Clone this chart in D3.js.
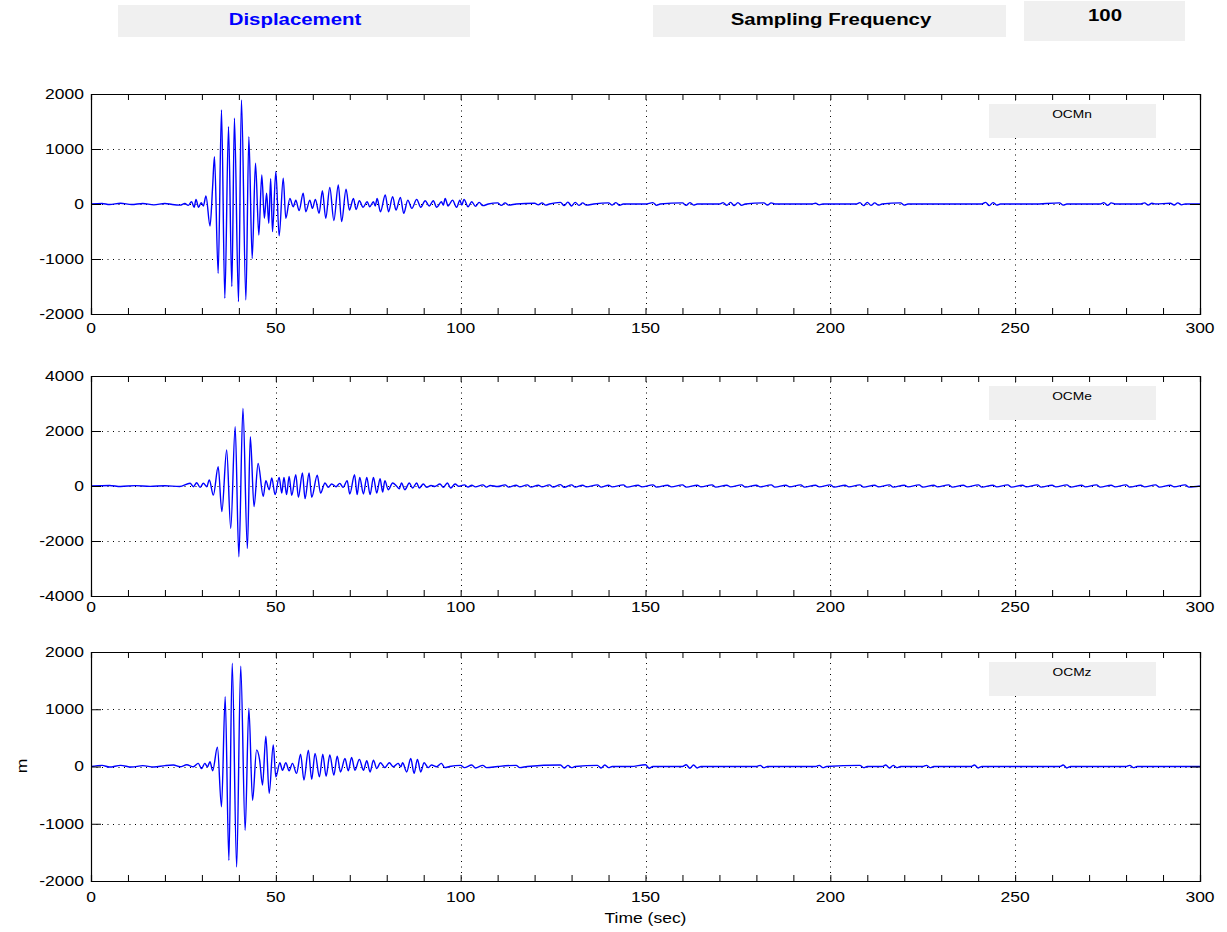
<!DOCTYPE html>
<html>
<head>
<meta charset="utf-8">
<script src="https://cdn.jsdelivr.net/npm/d3@7"></script>
<style>
  body { margin: 0; background: #fff; }
  svg text { font-family: "Liberation Sans", Arial, Helvetica, sans-serif; fill: #000; }
</style>
</head>
<body>
<svg id="chart" width="1227" height="932"></svg>
<script>
// ---- data ----
const channels = ["OCMn", "OCMe", "OCMz"];
const quantity = "Displacement";
const samplingLabel = "Sampling Frequency";
const samplingRate = "100";
const yLabel = "m";
const xLabel = "Time (sec)";
const xTickValues = [0, 50, 100, 150, 200, 250, 300];
const xMinorStep = 10;
const yDomains = [[-2000, 2000], [-4000, 4000], [-2000, 2000]];
const yTickValues = [
  [-2000, -1000, 0, 1000, 2000],
  [-4000, -2000, 0, 2000, 4000],
  [-2000, -1000, 0, 1000, 2000]
];

// waveform turning points, [time s, displacement]
const traceN = [
  [0,0],[3,10],[5,-10],[8,15],[11,-10],[14,10],[17,-15],[20,10],[22,-10],
  [24.1,-20],[25.4,10],[26.3,-25],[27.2,43],[27.9,-60],[28.4,85],[29.1,-60],[29.8,25],[30.4,-35],
  [31.1,145],[32.2,-400],[32.9,315],[33.4,860],[34.4,-1260],[35.3,1710],[36.2,-1715],[37.2,1405],
  [38.1,-1500],[38.8,1560],[39.9,-1775],[40.7,1890],[41.9,-1745],[42.7,1225],[43.6,-990],[44.5,740],
  [45.4,-565],[46.2,530],[46.9,-260],[47.5,195],[48.1,-350],[48.6,460],[49.1,-503],[50.0,590],
  [50.9,-580],[52.0,470],[52.7,-260],[53.8,100],[54.7,-50],[55.4,70],[56.3,-120],[57.4,195],
  [58.1,-140],[59.2,70],[59.9,-80],[60.7,85],[61.7,-170],[62.6,240],[63.5,-260],[64.6,300],
  [65.7,-300],[66.9,345],[67.8,-320],[69.0,270],[69.9,-110],[71.0,100],[71.7,-100],[72.6,60],
  [73.6,-60],[74.7,40],[75.4,-50],[76.4,40],[76.9,-35],[77.4,100],[78.3,-140],[79.6,165],
  [80.5,-140],[81.6,135],[82.5,-110],[83.7,120],[84.6,-170],[85.7,70],[86.8,-80],[88.1,85],
  [89.2,-60],[90.4,60],[91.5,-35],[92.6,60],[93.5,-60],[94.8,40],[95.3,-20],[95.8,100],
  [96.6,-35],[97.8,70],[98.9,-60],[99.8,70],[100.3,-20],[100.9,85],[102.0,-50],
  [103,40],[104,-40],[105,30],[106,-30],[107.5,0],[110,20],[111,-25],[112,20],[113,-20],[115,0],
  [120,15],[121,-15],[122,20],[123,-20],[124,0],[127,30],[128,-30],[129,35],[130,-35],[131,30],[132,-25],
  [133,20],[134,-20],[136,0],[140,20],[141,-20],[142,25],[143,-25],[144,0],[150,0],[152,25],[153,-25],
  [154,0],[160,20],[161,-25],[162,25],[163,-20],[164,0],[170,0],[171,25],[172,-25],[173,30],[174,-30],
  [175,25],[176,-25],[177,0],[182,20],[183,-20],[184,20],[185,0],[195,0],[196,15],[197,-15],[198,0],
  [207,0],[208,25],[209,-30],[210,30],[211,-25],[212,20],[213,-20],[214,0],[219,20],[220,-20],[221,0],
  [241,0],[242,30],[243,-30],[244,25],[245,-20],[246,0],[255,0],[262,20],[263,-20],[264,0],
  [273,0],[274,25],[275,-25],[276,20],[277,0],[284,0],[285,20],[286,-20],[287,15],[288,0],
  [292,15],[293,-20],[294,20],[295,-15],[296,0],[300,0]
];

const traceE = [
  [0,0],[5,20],[8,-20],[12,15],[16,-15],[20,10],[24,-20],
  [26.8,100],[27.7,-25],[28.6,120],[29.5,-50],[30.4,100],[31.3,-25],[32.0,220],[33.1,-330],
  [34.4,700],[35.4,-930],[36.7,1310],[37.8,-1540],[39.0,2160],[40.0,-2570],[41.1,2820],[42.3,-2270],
  [43.1,1790],[44.1,-750],[45.2,820],[46.6,-375],[47.3,195],[48.2,-135],[48.9,290],[49.8,-315],
  [50.9,315],[51.6,-255],[52.2,315],[52.9,-315],[53.6,350],[54.3,-340],[55.4,410],[56.1,-410],
  [57.2,470],[57.9,-460],[59.0,470],[59.7,-410],[61.2,390],[62.1,-255],[63.3,110],[64.2,-50],
  [65.1,75],[66.3,-25],[67.3,95],[68.2,-50],[69.3,195],[70.0,-290],[71.3,410],[72.0,-315],
  [72.7,315],[73.7,-290],[74.6,315],[75.5,-315],[76.4,315],[77.3,-255],[78.2,265],[78.9,-220],
  [79.5,195],[80.4,-135],[81.6,110],[82.7,-10],[83.4,-100],[84.0,110],[84.9,-135],[86.1,110],
  [87.0,-75],[88.1,110],[88.8,-75],[89.9,75],[90.8,-50],[92,20],[93,-20],[94.4,75],[95.3,-50],
  [96.4,110],[97.3,-75],[98.5,75],[99.4,-10],
  [101,40],[102,-40],[103,30],[104,-30],[106,40],[107,-40],[108,20],[110,-20],[112,40],[113,-40],
  [115,30],[116,-30],[118,40],[119,-40],[121,30],[122,-30],[124,40],[125,-40],[127,50],[128,-50],
  [130,40],[131,-40],[133,30],[134,-30],[137,40],[138,-40],[140,30],[141,-30],[144,40],[145,-40],
  [148,30],[149,-30],[152,40],[153,-40],[156,30],[157,-30],[160,40],[161,-40],[164,30],[165,-30],
  [168,40],[169,-40],[172,30],[173,-30],[176,40],[177,-40],[180,30],[181,-30],[184,40],[185,-40],
  [188,30],[189,-30],[192,40],[193,-40],[196,30],[197,-30],[200,40],[201,-40],[204,30],[205,-30],
  [208,40],[209,-40],[212,30],[213,-30],[216,40],[217,-40],[220,30],[221,-30],[224,40],[225,-40],
  [228,30],[229,-30],[232,40],[233,-40],[236,30],[237,-30],[240,40],[241,-40],[244,30],[245,-30],
  [248,40],[249,-40],[252,30],[253,-30],[256,40],[257,-40],[260,30],[261,-30],[264,40],[265,-40],
  [268,30],[269,-30],[272,40],[273,-40],[276,30],[277,-30],[280,40],[281,-40],[284,30],[285,-30],
  [288,40],[289,-40],[292,30],[293,-30],[296,40],[297,-40],[300,0]
];

const traceZ = [
  [0,0],[3,20],[5,-10],[8,20],[11,-10],[14,15],[17,-10],[20,15],
  [22.3,25],[24.1,-5],[25.9,30],[27.7,-5],[29.0,55],[29.9,-35],[30.8,55],[31.5,-5],[32.2,85],[32.9,-75],
  [34.2,335],[35.3,-705],[36.3,1220],[37.3,-1640],[38.2,1805],[39.4,-1755],[40.5,1750],[41.7,-1115],
  [42.7,1020],[43.7,-590],[44.8,290],[45.6,120],[46.4,-325],[47.3,530],[48.2,-470],[49.3,375],
  [50.0,-180],[51.1,65],[51.8,-65],[52.7,65],[53.6,-75],[54.5,55],[55.6,-120],[56.7,215],[57.6,-235],
  [58.8,285],[59.7,-225],[60.6,230],[61.8,-180],[62.7,215],[63.6,-170],[64.6,200],[65.7,-150],
  [66.6,180],[67.5,-95],[68.7,140],[69.6,-75],[70.5,160],[71.4,-65],[72.6,125],[73.7,-65],
  [74.6,100],[75.5,-95],[76.4,110],[77.3,-35],[78.3,65],[79.5,-20],[80.7,65],[81.8,-5],[83.1,55],
  [83.8,-5],[84.3,65],[85.4,-95],[86.5,140],[87.4,-120],[88.3,125],[89.2,-95],[90.1,65],[91.2,-20],
  [92.1,25],[93.5,-5],[94.8,55],[95.7,-20],[97,0],
  [100,20],[101,-20],[103,25],[104,-25],[106,20],[107,-20],[110,0],[115,20],[116,-20],[118,0],
  [127,25],[128,-25],[129,20],[130,-20],[131,0],[137,20],[138,-25],[139,25],[140,-20],[141,0],
  [146,0],[150,30],[151,-30],[152,0],[160,0],[161,30],[162,-30],[163,25],[164,-25],[165,0],
  [180,0],[181,20],[182,-20],[183,0],[196,0],[197,20],[198,-20],[199,0],[208,20],[209,-20],[210,0],
  [214,0],[215,25],[216,-25],[217,20],[218,-20],[219,0],[225,0],[226,20],[227,-20],[228,0],
  [238,0],[239,25],[240,-25],[241,0],[262,0],[263,25],[264,-25],[265,0],[280,0],[281,20],
  [282,-20],[283,0],[300,0]
];

const traces = [traceN, traceE, traceZ];

// ---- layout ----
const W = 1227, H = 932;
const plotLeft = 91, plotRight = 1200;
const panels = [
  { top: 94, bottom: 314, labelOffset: 14 },
  { top: 376, bottom: 596, labelOffset: 11 },
  { top: 652, bottom: 881, labelOffset: 16 }
];
const stretch = 1.25;          // horizontal text stretch
const boxFill = "#f0f0f0";
const traceColor = "#0000ff";

const svg = d3.select("#chart");

function label(g, x, y, str, opt = {}) {
  return g.append("text")
    .attr("transform", `translate(${x},${y}) scale(${opt.sx || stretch},1)`)
    .attr("text-anchor", opt.anchor || "middle")
    .attr("dominant-baseline", opt.baseline || "central")
    .style("font-size", (opt.size || 14) + "px")
    .style("font-weight", opt.weight || "normal")
    .style("fill", opt.color || "#000")
    .text(str);
}

// header boxes
svg.append("rect").attr("x", 118).attr("y", 5).attr("width", 352).attr("height", 32).attr("fill", boxFill);
label(svg, 295, 19, quantity, { size: 17, weight: "bold", color: "#0000ff", sx: 1.2 });
svg.append("rect").attr("x", 653).attr("y", 5).attr("width", 353).attr("height", 32).attr("fill", boxFill);
label(svg, 831, 19, samplingLabel, { size: 17, weight: "bold", sx: 1.2 });
svg.append("rect").attr("x", 1024).attr("y", 1).attr("width", 161).attr("height", 40).attr("fill", boxFill);
label(svg, 1105, 15, samplingRate, { size: 17, weight: "bold", sx: 1.2 });

const x = d3.scaleLinear().domain([0, 300]).range([plotLeft, plotRight]);
const minorX = d3.range(0, 301, xMinorStep);

panels.forEach((p, i) => {
  const y = d3.scaleLinear().domain(yDomains[i]).range([p.bottom, p.top]);
  const g = svg.append("g");

  // dotted grid
  const gridX = xTickValues.filter(v => v > 0 && v < 300);
  const gridY = yTickValues[i].filter(v => v > yDomains[i][0] && v < yDomains[i][1]);
  g.selectAll(".gx").data(gridX).join("line")
    .attr("x1", d => Math.round(x(d)) + 0.5).attr("x2", d => Math.round(x(d)) + 0.5)
    .attr("y1", p.top).attr("y2", p.bottom)
    .attr("stroke", "#000").attr("stroke-width", 1).attr("stroke-dasharray", "1,4.5");
  g.selectAll(".gy").data(gridY).join("line")
    .attr("y1", d => Math.round(y(d)) + 0.5).attr("y2", d => Math.round(y(d)) + 0.5)
    .attr("x1", plotLeft).attr("x2", plotRight)
    .attr("stroke", "#000").attr("stroke-width", 1).attr("stroke-dasharray", "1,4.5");

  // waveform
  const line = d3.line().x(d => x(d[0])).y(d => y(d[1])).curve(d3.curveMonotoneX);
  g.append("path").datum(traces[i])
    .attr("fill", "none").attr("stroke", traceColor).attr("stroke-width", 1.4)
    .attr("stroke-linejoin", "round").attr("d", line);

  // legend box
  const lgTop = p.top + 10;
  g.append("rect").attr("x", 989).attr("y", lgTop).attr("width", 167).attr("height", 34).attr("fill", boxFill);
  label(g, 1072, lgTop + 10, channels[i], { size: 11 });

  // axes with inward ticks
  const bottomAxis = d3.axisBottom(x).tickValues(minorX).tickSize(-6).tickFormat("");
  const topAxis = d3.axisTop(x).tickValues(minorX).tickSize(-6).tickFormat("");
  const leftAxis = d3.axisLeft(y).tickValues(yTickValues[i]).tickSize(-10).tickFormat("");
  const rightAxis = d3.axisRight(y).tickValues(yTickValues[i]).tickSize(-10).tickFormat("");
  [[bottomAxis, `translate(0,${p.bottom})`], [topAxis, `translate(0,${p.top})`],
   [leftAxis, `translate(${plotLeft},0)`], [rightAxis, `translate(${plotRight},0)`]].forEach(([ax, tr]) => {
    const a = g.append("g").attr("transform", tr).call(ax);
    a.select(".domain").attr("stroke", "#000").attr("stroke-width", 1.2);
    a.selectAll(".tick line").attr("stroke", "#000");
  });

  // tick labels
  xTickValues.forEach(v => label(g, x(v), p.bottom + p.labelOffset, String(v), { size: 14 }));
  yTickValues[i].forEach(v => label(g, 84, y(v), String(v), { size: 14, anchor: "end" }));
});

// axis titles
label(svg, (plotLeft + plotRight) / 2, 918, xLabel, { size: 14 });
svg.append("text")
  .attr("transform", `translate(22,766) rotate(-90) scale(${stretch},1)`)
  .attr("text-anchor", "middle").attr("dominant-baseline", "central")
  .style("font-size", "14px").text(yLabel);
</script>
</body>
</html>
